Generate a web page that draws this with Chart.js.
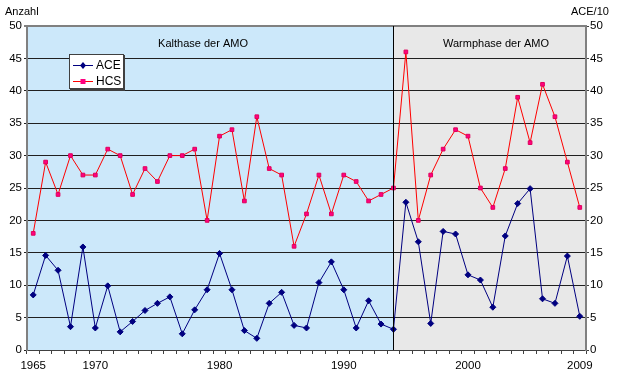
<!DOCTYPE html>
<html>
<head>
<meta charset="utf-8">
<script src="https://cdn.jsdelivr.net/npm/chart.js@4"></script>
<style>
  body { margin: 0; background: #fff; }
</style>
</head>
<body>
<canvas id="amoChart" width="619" height="378"></canvas>
<script>
var years = [];
for (var y = 1965; y <= 2009; y++) years.push(String(y));

var shownYears = ["1965", "1970", "1980", "1990", "2000", "2009"];

// HCS = Anzahl, ACE plotted as ACE/10
var hcsValues = [18, 29, 24, 30, 27, 27, 31, 30, 24, 28,
                 26, 30, 30, 31, 20, 33, 34, 23, 36, 28,
                 27, 16, 21, 27, 21, 27, 26, 23, 24, 25,
                 46, 20, 27, 31, 34, 33, 25, 22, 28, 39,
                 32, 41, 36, 29, 22];

var aceValues = [8.5, 14.6, 12.3, 3.6, 15.9, 3.4, 9.9, 2.8, 4.4, 6.1,
                 7.2, 8.2, 2.5, 6.2, 9.3, 14.9, 9.3, 3.0, 1.8, 7.2,
                 8.9, 3.8, 3.4, 10.4, 13.6, 9.3, 3.4, 7.6, 4.0, 3.2,
                 22.8, 16.7, 4.1, 18.3, 17.9, 11.6, 10.8, 6.6, 17.6, 22.6,
                 24.9, 7.9, 7.2, 14.5, 5.2];

var splitYear = "1994";
var fontName = "'Liberation Sans', Arial, sans-serif";

// backgrounds, phase line, texts and legend box
var decor = {
  id: "decor",
  beforeDraw: function (chart) {
    var ctx = chart.ctx, a = chart.chartArea;
    var xs = chart.scales.x.getPixelForValue(years.indexOf(splitYear));
    ctx.save();
    ctx.fillStyle = "#cce8fa";
    ctx.fillRect(a.left, a.top, xs - a.left, a.bottom - a.top);
    ctx.fillStyle = "#e8e8e8";
    ctx.fillRect(xs, a.top, a.right - xs, a.bottom - a.top);
    ctx.restore();
  },
  afterDatasetsDraw: function (chart) {
    var ctx = chart.ctx, a = chart.chartArea;
    var xs = chart.scales.x.getPixelForValue(years.indexOf(splitYear));
    ctx.save();
    ctx.strokeStyle = "#000";
    ctx.lineWidth = 1;
    ctx.beginPath();
    ctx.moveTo(Math.round(xs) + 0.5, a.top);
    ctx.lineTo(Math.round(xs) + 0.5, a.bottom);
    ctx.stroke();

    ctx.fillStyle = "#000";
    ctx.font = "11px " + fontName;
    ctx.textBaseline = "middle";
    ctx.textAlign = "center";
    ctx.fillText("Kalthase der AMO", 203, 44);
    ctx.fillText("Warmphase der AMO", 496, 44);
    ctx.textAlign = "left";
    ctx.fillText("Anzahl", 5, 12);
    ctx.fillText("ACE/10", 571, 12);

    // legend
    ctx.fillStyle = "#fff";
    ctx.fillRect(69, 54, 55, 35);
    ctx.strokeStyle = "#404040";
    ctx.lineWidth = 1;
    ctx.strokeRect(69.5, 54.5, 54, 34);
    ctx.lineWidth = 2;
    ctx.beginPath();
    ctx.moveTo(124, 55);
    ctx.lineTo(124, 90);
    ctx.lineTo(70, 90);
    ctx.stroke();

    var rows = [
      { ds: chart.data.datasets[0], y: 65 },
      { ds: chart.data.datasets[1], y: 81 }
    ];
    rows.forEach(function (r) {
      ctx.strokeStyle = r.ds.borderColor;
      ctx.lineWidth = 1;
      ctx.beginPath();
      ctx.moveTo(73, r.y + 0.5);
      ctx.lineTo(93, r.y + 0.5);
      ctx.stroke();
      ctx.fillStyle = r.ds.pointBackgroundColor;
      if (r.ds.pointStyle === "rectRot") {
        ctx.beginPath();
        ctx.moveTo(83, r.y - 3);
        ctx.lineTo(86, r.y + 0.5);
        ctx.lineTo(83, r.y + 4);
        ctx.lineTo(80, r.y + 0.5);
        ctx.closePath();
        ctx.fill();
      } else {
        ctx.fillRect(80.5, r.y - 2, 5, 5);
      }
      ctx.fillStyle = "#000";
      ctx.font = "12px " + fontName;
      ctx.fillText(r.ds.label, 96, r.y + 1);
    });
    ctx.restore();
  }
};

new Chart("amoChart", {
  type: "line",
  data: {
    labels: years,
    datasets: [{
      label: "ACE",
      data: aceValues,
      borderColor: "#000080",
      backgroundColor: "#000080",
      pointBackgroundColor: "#000080",
      pointBorderColor: "#000080",
      pointStyle: "rectRot",
      pointRadius: 3,
      borderWidth: 1,
      tension: 0,
      fill: false
    },
    {
      label: "HCS",
      data: hcsValues,
      borderColor: "#ff0000",
      backgroundColor: "#ff0080",
      pointBackgroundColor: "#ff0080",
      pointBorderColor: "#e0005a",
      pointStyle: "rect",
      pointRadius: 2.6,
      pointBorderWidth: 1,
      borderWidth: 1,
      tension: 0,
      fill: false
    }]
  },
  plugins: [decor],
  options: {
    responsive: false,
    animation: false,
    layout: { padding: { top: 26, left: 0, right: 0, bottom: 0 } },
    plugins: {
      legend: { display: false },
      tooltip: { enabled: false }
    },
    scales: {
      x: {
        type: "category",
        offset: true,
        afterFit: function (s) { s.height = 28; },
        grid: {
          offset: true,
          drawOnChartArea: false,
          drawTicks: true,
          tickLength: 4,
          color: "#404040"
        },
        border: { color: "#404040", width: 1 },
        ticks: {
          autoSkip: false,
          maxRotation: 0,
          padding: 5,
          color: "#000",
          font: { family: fontName, size: 11.5 },
          callback: function (v) {
            var l = this.getLabelForValue(v);
            return shownYears.indexOf(l) >= 0 ? l : "";
          }
        }
      },
      y: {
        position: "left",
        min: 0,
        max: 50,
        afterFit: function (s) { s.width = 27; },
        grid: {
          color: function (c) { return c.tick && c.tick.value === 50 ? "#808080" : "#202020"; },
          lineWidth: function (c) { return c.tick && c.tick.value === 50 ? 2 : 1; },
          tickLength: 3
        },
        border: { color: "#808080", width: 2 },
        ticks: {
          stepSize: 5,
          padding: 2,
          color: "#000",
          font: { family: fontName, size: 11.5 }
        }
      },
      y2: {
        position: "right",
        min: 0,
        max: 50,
        afterFit: function (s) { s.width = 33; },
        grid: { drawOnChartArea: false, tickLength: 3, color: "#404040" },
        border: { color: "#808080", width: 2 },
        ticks: {
          stepSize: 5,
          padding: 1,
          color: "#000",
          font: { family: fontName, size: 11.5 }
        }
      }
    }
  }
});
</script>
</body>
</html>
